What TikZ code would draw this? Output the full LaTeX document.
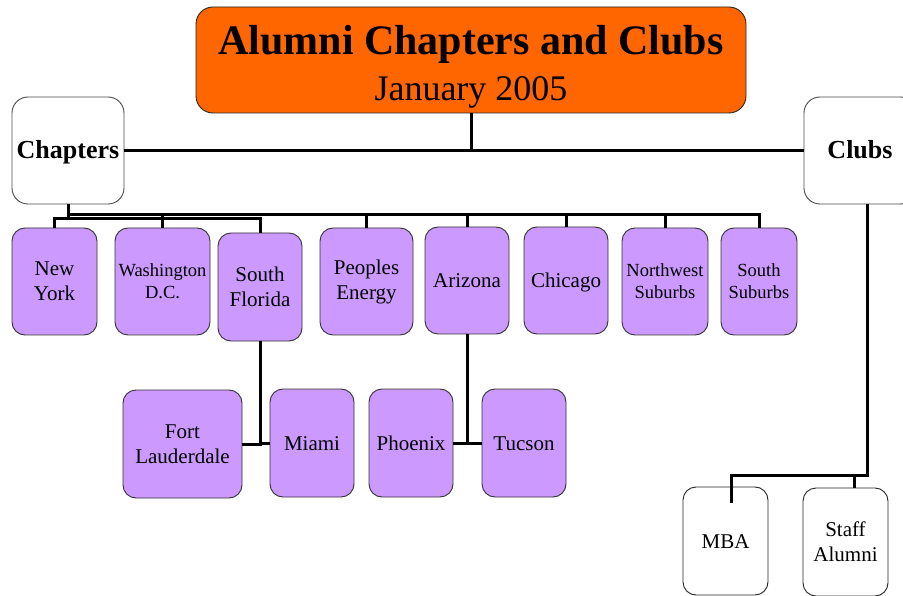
\documentclass[tikz,border=0pt]{standalone}
\usepackage{fontspec}
\setmainfont{Liberation Serif}
\usetikzlibrary{positioning}
\definecolor{headorange}{HTML}{FF6600}
\definecolor{cityviolet}{HTML}{CC99FF}
\tikzset{
	banner/.style={draw=black!85, line width=0.9pt, rectangle, rounded corners=17pt, fill=headorange, minimum width=550pt, minimum height=106pt, inner sep=0pt, font=\fontsize{36}{46}\selectfont, text height=29pt, text depth=39pt},
	branch/.style={draw=black!70, line width=0.9pt, rectangle, rounded corners=16pt, fill=white, minimum width=112pt, minimum height=107pt, inner sep=1pt, font=\fontsize{26}{30}\selectfont\bfseries, text height=17pt, text depth=0pt},
	city/.style={draw=black!80, line width=0.9pt, rectangle, rounded corners=13pt, fill=cityviolet, minimum width=85pt, minimum height=107pt, inner sep=1pt, align=center, font=\fontsize{21}{25}\selectfont},
	% one line names: fixed baseline
	oneline/.style={text height=14.5pt, text depth=0pt},
	% smaller text for the long names
	smalltext/.style={font=\fontsize{18.5}{22}\selectfont},
	club/.style={draw=black!85, line width=0.9pt, rectangle, rounded corners=13pt, fill=white, minimum width=85pt, minimum height=108pt, inner sep=1pt, align=center, font=\fontsize{21}{25}\selectfont},
}

\begin{document}
\begin{tikzpicture}[x=1pt, y=-1pt]
	\useasboundingbox (0,0) rectangle (903,596);
	
	\node (title) [banner] at (471,60) {\begin{tabular}[t]{@{}c@{}}{\fontsize{42}{46}\selectfont\bfseries Alumni Chapters and Clubs}\\January 2005\end{tabular}};
	
	\node (chap) [branch] at (68,150.5) {Chapters};
	\node (clubs) [branch] at (860,150.5) {Clubs};
	
	\node (ny) [city] at (54.5,281.5) {New\\York};
	\node (dc) [city, smalltext, minimum width=95pt] at (162.5,281.5) {Washington\\D.C.};
	\node (sf) [city, minimum width=84pt, minimum height=108pt] at (260,287) {South\\Florida};
	\node (pe) [city, minimum width=93pt] at (366.5,281.5) {Peoples\\Energy};
	\node (az) [city, oneline, minimum width=84pt] at (467,280.5) {Arizona};
	\node (chi) [city, oneline, minimum width=84pt] at (566,280.5) {Chicago};
	\node (nw) [city, smalltext, minimum width=86pt] at (665,281.5) {Northwest\\Suburbs};
	\node (ss) [city, smalltext, minimum width=76pt] at (759,281.5) {South\\Suburbs};
	
	\node (ftl) [city, minimum width=119pt, minimum height=108pt] at (182.5,444) {Fort\\Lauderdale};
	\node (mia) [city, oneline, minimum width=84pt, minimum height=108pt] at (312,443) {Miami};
	\node (phx) [city, oneline, minimum width=84pt, minimum height=108pt] at (411,443) {Phoenix};
	\node (tuc) [city, oneline, minimum width=84pt, minimum height=108pt] at (524,443) {Tucson};
	
	\node (mba) [club, oneline] at (725.5,541) {MBA};
	\node (staff) [club] at (845.5,542) {Staff\\Alumni};
	
	\coordinate (bus) at (68,215);
	\coordinate (bus2) at (68,219);
	\coordinate (clubbus) at (867,475);
	
	\begin{scope}[black, line width=3pt]
		\draw (title.south) -- (title.south |- chap.east);
		\draw[line width=2.5pt] (chap.east) -- (clubs.west);
		
		\draw (chap.south) -- (bus2);
		\draw (bus2) -| (ny.north);
		\draw (bus2) -| (sf.north);
		\draw (bus) -| (dc.north);
		\draw (bus) -| (pe.north);
		\draw (bus) -| (az.north);
		\draw (bus) -| (chi.north);
		\draw (bus) -| (nw.north);
		\draw (bus) -| (ss.north);
		
		\draw (sf.south) |- (ftl.east);
		\draw (sf.south) |- (mia.west);
		\draw (az.south) |- (phx.east);
		\draw (az.south) |- (tuc.west);
		
		\draw ([xshift=7pt]clubs.south) -- (clubbus) -| ([xshift=5.5pt, yshift=-16pt]mba.north);
		\draw (clubbus) -| ([xshift=8.5pt]staff.north);
	\end{scope}
	
\end{tikzpicture}
\end{document}
